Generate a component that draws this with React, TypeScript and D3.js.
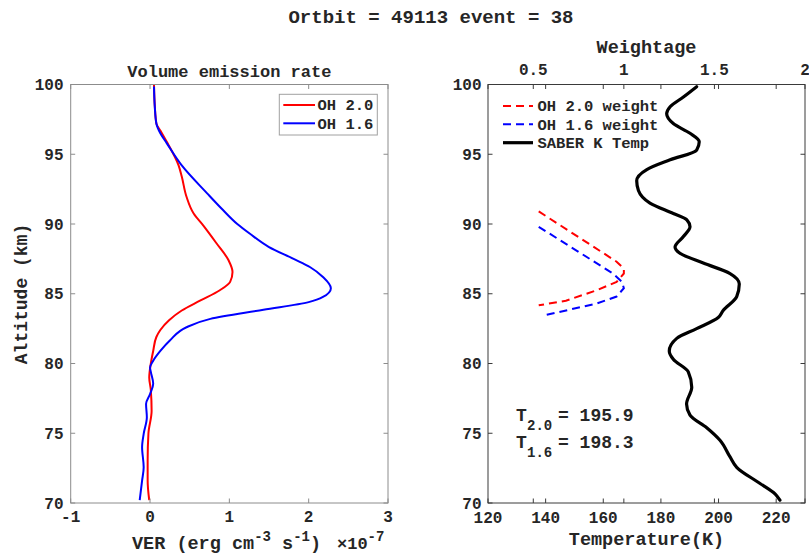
import React from "react";
import * as d3 from "d3";

// ---------- data ----------
const redAlt = [100, 98.5, 97.2, 96.7, 95.8, 94.2, 93.4, 91.95, 90.75, 89.9, 88.6, 87.4, 86.56, 85.85, 85.25, 84.5, 83.8, 83.1, 82.4, 81.9, 80.9, 80.0, 79.0, 78.1, 76.6, 75.0, 73.05, 71.6, 70.2];
const redVer = [0.05, 0.06, 0.08, 0.13, 0.22, 0.36, 0.40, 0.46, 0.55, 0.67, 0.84, 0.99, 1.04, 1.01, 0.88, 0.63, 0.40, 0.24, 0.13, 0.08, 0.04, 0.01, -0.01, 0.01, 0.02, -0.02, -0.03, -0.03, -0.01];

const blueAlt = [99.85, 98.4, 97.2, 96.5, 95.8, 94.2, 92.2, 91.0, 90.0, 89.3, 88.35, 87.5, 86.9, 86.2, 85.4, 84.77, 84.4, 83.85, 83.2, 82.6, 81.65, 80.9, 80.2, 79.7, 79.4, 78.55, 77.8, 77.1, 76.15, 74.96, 74.0, 72.56, 71.6, 70.2];
const blueVer = [0.05, 0.06, 0.08, 0.13, 0.21, 0.40, 0.72, 0.92, 1.10, 1.26, 1.50, 1.81, 2.02, 2.18, 2.28, 2.18, 2.0, 1.43, 0.76, 0.46, 0.25, 0.13, 0.04, 0.0, 0.01, 0.04, 0.0, -0.05, -0.04, -0.08, -0.10, -0.08, -0.10, -0.13];

const tempAlt = [99.84, 99.1, 98.4, 97.9, 97.2, 96.5, 95.9, 95.3, 94.6, 93.9, 93.1, 92.4, 91.5, 90.75, 90.3, 89.8, 89.1, 88.35, 87.9, 87.2, 86.45, 85.7, 84.8, 83.8, 83.3, 82.5, 81.8, 80.9, 80.3, 79.4, 78.3, 77.1, 76.3, 75.4, 74.5, 73.3, 72.56, 71.4, 70.65, 70.2];
const tempVal = [192.4, 187.8, 183.2, 182.0, 184.3, 190.1, 193.3, 192.4, 183.2, 175.1, 171.6, 172.2, 176.2, 184.3, 189.0, 190.1, 187.8, 184.9, 186.6, 194.7, 204.0, 207.2, 206.3, 201.6, 199.9, 192.4, 185.5, 182.9, 184.3, 189.5, 190.7, 188.9, 190.1, 195.9, 200.5, 204.0, 206.3, 214.4, 219.6, 221.3];

const redWAlt = [90.9, 87.3, 86.8, 86.45, 85.85, 85.25, 84.5, 84.17];
const redW = [0.53, 0.96, 1.0, 1.0, 0.96, 0.85, 0.68, 0.53];
const blueWAlt = [89.8, 86.45, 85.85, 85.4, 84.8, 84.3, 83.45];
const blueW = [0.53, 0.94, 0.99, 1.0, 0.96, 0.85, 0.56];

const altTicks = [70, 75, 80, 85, 90, 95, 100];
const verTicks = [-1, 0, 1, 2, 3];
const tempTicks = [120, 140, 160, 180, 200, 220];
const weightTicks = [0.5, 1, 1.5, 2];

const titleText = "Ortbit = 49113 event = 38";
const t20 = "195.9";
const t16 = "198.3";

// ---------- layout ----------
const W = 809, H = 555;
const FONT = "'Liberation Mono', 'Courier New', monospace";
const TICK = 4.5;

const yScale = d3.scaleLinear().domain([70, 100]).range([503, 84.5]);
const xVer = d3.scaleLinear().domain([-1, 3]).range([70.7, 388]);
const xTemp = d3.scaleLinear().domain([120, 230]).range([488, 805]);
const xW = d3.scaleLinear().domain([0.25, 2]).range([488, 805]);

function pts(xs: number[], ys: number[]) {
  return xs.map((x, i) => [x, ys[i]] as [number, number]);
}

export default function App() {
  const lineVer = d3.line<[number, number]>().x(d => xVer(d[0])).y(d => yScale(d[1])).curve(d3.curveMonotoneY);
  const lineT = d3.line<[number, number]>().x(d => xTemp(d[0])).y(d => yScale(d[1])).curve(d3.curveMonotoneY);
  const lineW = d3.line<[number, number]>().x(d => xW(d[0])).y(d => yScale(d[1])).curve(d3.curveLinear);

  const [lx0, lx1] = xVer.range();
  const [rx0, rx1] = xTemp.range();
  const yTop = yScale(100), yBot = yScale(70);
  const leftAxisColor = "#8c8c8c";
  const rightAxisColor = "#3a3a3a";
  const txt = "#262626";

  return (
    <svg width={W} height={H} style={{ position: "absolute", left: 0, top: 0, background: "#fff" }} fontFamily={FONT} fontWeight="bold">
      <rect x={0} y={0} width={W} height={H} fill="#fff" />
      {/* Title */}
      <text x={431} y={23} textAnchor="middle" fontSize={19} fill={txt}>{titleText}</text>

      {/* ---------- Left panel ---------- */}
      <text x={(lx0 + lx1) / 2} y={76.5} textAnchor="middle" fontSize={17} fill={txt}>Volume emission rate</text>
      <g>
        <path d={lineVer(pts(redVer, redAlt)) || ""} fill="none" stroke="#ff0000" strokeWidth={2} />
        <path d={lineVer(pts(blueVer, blueAlt)) || ""} fill="none" stroke="#0000ff" strokeWidth={2} />
      </g>
      <rect x={lx0} y={yTop} width={lx1 - lx0} height={yBot - yTop} fill="none" stroke={leftAxisColor} strokeWidth={1} />
      {altTicks.map(a => (
        <g key={"la" + a}>
          <line x1={lx0} x2={lx0 + TICK} y1={yScale(a)} y2={yScale(a)} stroke={leftAxisColor} />
          <line x1={lx1} x2={lx1 - TICK} y1={yScale(a)} y2={yScale(a)} stroke={leftAxisColor} />
          <text x={63.5} y={yScale(a)} dy="0.35em" textAnchor="end" fontSize={16} fill={txt}>{a}</text>
        </g>
      ))}
      {verTicks.map(v => (
        <g key={"lv" + v}>
          <line x1={xVer(v)} x2={xVer(v)} y1={yBot} y2={yBot - TICK} stroke={leftAxisColor} />
          <line x1={xVer(v)} x2={xVer(v)} y1={yTop} y2={yTop + TICK} stroke={leftAxisColor} />
          <text x={xVer(v)} y={522} textAnchor="middle" fontSize={16} fill={txt}>{v}</text>
        </g>
      ))}
      <text x={132} y={549} fontSize={18.5} fill={txt}>
        VER (erg cm<tspan dy={-8} fontSize={14}>-3</tspan><tspan dy={8}> s</tspan><tspan dy={-8} fontSize={14}>-1</tspan><tspan dy={8}>)</tspan>
      </text>
      <text x={337} y={549} fontSize={17} fill={txt}>
        ×10<tspan dy={-8} fontSize={14}>-7</tspan>
      </text>
      <text transform={`translate(27,294) rotate(-90)`} textAnchor="middle" fontSize={18} fill={txt}>Altitude (km)</text>

      {/* legend left */}
      <rect x={279.3} y={94.3} width={98} height={40.7} fill="#fff" stroke="#a0a0a0" strokeWidth={1} />
      <line x1={283.3} x2={315} y1={105} y2={105} stroke="#ff0000" strokeWidth={2} />
      <line x1={283.3} x2={315} y1={123.3} y2={123.3} stroke="#0000ff" strokeWidth={2} />
      <text x={317.5} y={105} dy="0.35em" fontSize={15.5} fill={txt}>OH 2.0</text>
      <text x={317.5} y={123.3} dy="0.35em" fontSize={15.5} fill={txt}>OH 1.6</text>

      {/* ---------- Right panel ---------- */}
      <text x={(rx0 + rx1) / 2} y={53} textAnchor="middle" fontSize={18.5} fill={txt}>Weightage</text>
      <g>
        <path d={lineW(pts(redW, redWAlt)) || ""} fill="none" stroke="#ff0000" strokeWidth={2} strokeDasharray="8,5" />
        <path d={lineW(pts(blueW, blueWAlt)) || ""} fill="none" stroke="#0000ff" strokeWidth={2} strokeDasharray="8,5" />
        <path d={lineT(pts(tempVal, tempAlt)) || ""} fill="none" stroke="#000" strokeWidth={3.2} strokeLinecap="round" />
      </g>
      <rect x={rx0} y={yTop} width={rx1 - rx0} height={yBot - yTop} fill="none" stroke={rightAxisColor} strokeWidth={1} />
      {altTicks.map(a => (
        <g key={"ra" + a}>
          <line x1={rx0} x2={rx0 + TICK} y1={yScale(a)} y2={yScale(a)} stroke={rightAxisColor} />
          <line x1={rx1} x2={rx1 - TICK} y1={yScale(a)} y2={yScale(a)} stroke={rightAxisColor} />
          <text x={481.5} y={yScale(a)} dy="0.35em" textAnchor="end" fontSize={16} fill={txt}>{a}</text>
        </g>
      ))}
      {tempTicks.map(t => (
        <g key={"rt" + t}>
          <line x1={xTemp(t)} x2={xTemp(t)} y1={yBot} y2={yBot - TICK} stroke={rightAxisColor} />
          <line x1={xTemp(t)} x2={xTemp(t)} y1={yTop} y2={yTop + TICK} stroke={rightAxisColor} />
          <text x={xTemp(t)} y={523} textAnchor="middle" fontSize={16} fill={txt}>{t}</text>
        </g>
      ))}
      {weightTicks.map(w => (
        <g key={"rw" + w}>
          <line x1={xW(w)} x2={xW(w)} y1={yBot} y2={yBot - TICK} stroke={rightAxisColor} />
          <line x1={xW(w)} x2={xW(w)} y1={yTop} y2={yTop + TICK} stroke={rightAxisColor} />
          <text x={xW(w)} y={75} textAnchor="middle" fontSize={16} fill={txt}>{w}</text>
        </g>
      ))}
      <text x={(rx0 + rx1) / 2} y={545} textAnchor="middle" fontSize={18.5} fill={txt}>Temperature(K)</text>

      {/* legend right */}
      <line x1={503} x2={533} y1={106} y2={106} stroke="#ff0000" strokeWidth={2} strokeDasharray="8,5" />
      <line x1={503} x2={533} y1={124.3} y2={124.3} stroke="#0000ff" strokeWidth={2} strokeDasharray="8,5" />
      <line x1={503} x2={533} y1={142.7} y2={142.7} stroke="#000" strokeWidth={3.2} />
      <text x={537.5} y={106} dy="0.35em" fontSize={15.5} fill={txt}>OH 2.0 weight</text>
      <text x={537.5} y={124.3} dy="0.35em" fontSize={15.5} fill={txt}>OH 1.6 weight</text>
      <text x={537.5} y={142.7} dy="0.35em" fontSize={15.5} fill={txt}>SABER K Temp</text>

      {/* temperature annotations */}
      <text x={516} y={421} fontSize={18} fill={txt}>T</text>
      <text x={527} y={429.5} fontSize={14} fill={txt}>2.0</text>
      <text x={558} y={421} fontSize={18} fill={txt}>= {t20}</text>
      <text x={516} y={448} fontSize={18} fill={txt}>T</text>
      <text x={527} y={456.5} fontSize={14} fill={txt}>1.6</text>
      <text x={558} y={448} fontSize={18} fill={txt}>= {t16}</text>
    </svg>
  );
}
